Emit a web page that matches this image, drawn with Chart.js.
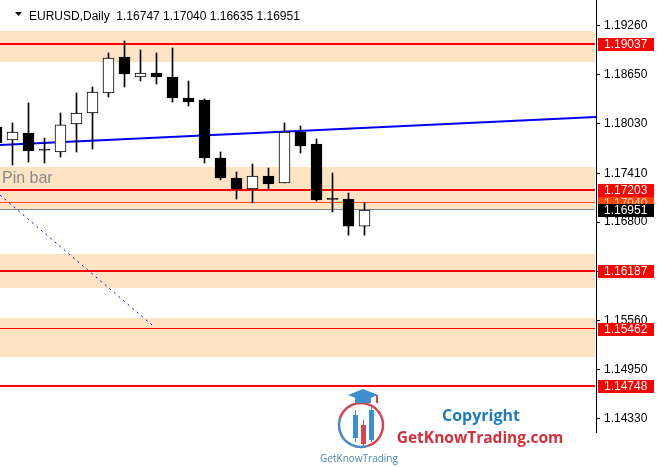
<!DOCTYPE html>
<html>
<head>
<meta charset="utf-8">
<script src="https://cdn.jsdelivr.net/npm/chart.js@4.4.1/dist/chart.umd.min.js"></script>
<style>
  html, body { margin: 0; padding: 0; background: #fff; }
  #wrap { width: 664px; height: 467px; }
</style>
</head>
<body>
<div id="wrap"><canvas id="chart" width="664" height="467"></canvas></div>
<script>
// EURUSD daily candles with S/R zones, MT4 style.
const FONT = "'Liberation Sans', Arial, sans-serif";

const SYMBOL = 'EURUSD,Daily';
// day -1 is the bar cut off at the left edge
const DAY   = [-1, 0, 1, 2, 3, 4, 5, 6, 7, 8, 9, 10, 11, 12, 13, 14, 15, 16, 17, 18, 19, 20, 21, 22];
const OPEN  = [1.17992, 1.17829, 1.17917, 1.17704, 1.17679, 1.18030, 1.18168, 1.18419, 1.18871, 1.18620, 1.18670, 1.18620, 1.18356, 1.18331, 1.17603, 1.17352, 1.17214, 1.17377, 1.17290, 1.17930, 1.17779, 1.17089, 1.17089, 1.16747];
const HIGH  = [1.18030, 1.18043, 1.18294, 1.17854, 1.18168, 1.18419, 1.18494, 1.18921, 1.19072, 1.18959, 1.18921, 1.18984, 1.18570, 1.18344, 1.17679, 1.17428, 1.17528, 1.17478, 1.18043, 1.18005, 1.17842, 1.17415, 1.17164, 1.17040];
const LOW   = [1.17754, 1.17516, 1.17553, 1.17541, 1.17616, 1.17679, 1.17716, 1.18369, 1.18494, 1.18570, 1.18532, 1.18306, 1.18256, 1.17541, 1.17327, 1.17089, 1.17040, 1.17214, 1.17290, 1.17666, 1.17064, 1.16926, 1.16635, 1.16635];
const CLOSE = [1.17792, 1.17930, 1.17691, 1.17701, 1.18018, 1.18168, 1.18432, 1.18858, 1.18658, 1.18670, 1.18620, 1.18356, 1.18306, 1.17603, 1.17352, 1.17214, 1.17377, 1.17277, 1.17930, 1.17754, 1.17076, 1.17085, 1.16747, 1.16951];

const Y_TICKS = [1.19260, 1.18650, 1.18030, 1.17410, 1.16800, 1.16180, 1.15560, 1.14950, 1.14330];
const Y_MIN = 1.14165, Y_MAX = 1.19586;
const X_MIN = -0.78125, X_MAX = 36.46875;

const ZONES  = [[1.19197, 1.18808], [1.17490, 1.16951], [1.16399, 1.15972], [1.15595, 1.15106]];
const LEVELS = [1.19037, 1.17203, 1.16187, 1.15462, 1.14748];
const LEVEL_W = [2, 2, 2, 1, 2];
const HIGH_LINE = 1.17040;
const BID = 1.16951;

const TREND_X = [-0.78, 36.47], TREND_Y = [1.17767, 1.18118];
const DOT_X = [-0.78, 8.72], DOT_Y = [1.17139, 1.15508];

const bodyColor = OPEN.map((o, i) => (CLOSE[i] > o ? '#ffffff' : '#000000'));

function hline(ctx, area, y, w, color) {
  ctx.fillStyle = color;
  const top = w === 2 ? Math.round(y) - 1 : Math.round(y - 0.5);
  ctx.fillRect(area.left, top, area.right - area.left - 1, w);
}

const backdrop = {
  id: 'backdrop',
  beforeDatasetsDraw(chart) {
    const { ctx, chartArea: a, scales: { y } } = chart;
    ctx.save();
    ctx.fillStyle = '#ffe4c4';
    ZONES.forEach(([t, b]) => {
      const y1 = Math.round(y.getPixelForValue(t)), y2 = Math.round(y.getPixelForValue(b));
      ctx.fillRect(a.left, y1, a.right - a.left - 1, y2 - y1);
    });
    ctx.font = '16px ' + FONT;
    ctx.fillStyle = '#8a8a8a';
    ctx.textBaseline = 'alphabetic';
    ctx.fillText('Pin bar', 2, 183);
    LEVELS.forEach((v, i) => hline(ctx, a, y.getPixelForValue(v), LEVEL_W[i], '#ff0000'));
    hline(ctx, a, y.getPixelForValue(HIGH_LINE), 1, '#ff4500');
    hline(ctx, a, y.getPixelForValue(BID), 1, '#778899');
    ctx.restore();
  },
  afterDraw(chart) {
    const { ctx, scales: { y } } = chart;
    ctx.save();
    ctx.font = '12px ' + FONT;
    ctx.textBaseline = 'middle';
    const tag = (v, bg, fg) => {
      const py = Math.round(y.getPixelForValue(v));
      ctx.fillStyle = bg;
      ctx.fillRect(598, py - 6, 56, 13);
      ctx.fillStyle = fg;
      ctx.fillText(v.toFixed(5), 604, py + 1);
    };
    tag(HIGH_LINE, '#ff4500', '#ffd9c8');
    LEVELS.forEach((v) => tag(v, '#ff0000', '#ffffff'));
    tag(BID, '#000000', '#ffffff');

    // header
    ctx.fillStyle = '#000';
    ctx.beginPath();
    ctx.moveTo(15, 12); ctx.lineTo(22, 12); ctx.lineTo(18.5, 16); ctx.closePath();
    ctx.fill();
    ctx.textBaseline = 'alphabetic';
    ctx.fillText(SYMBOL + '  ' + [OPEN, HIGH, LOW, CLOSE].map((s) => s[s.length - 1].toFixed(5)).join(' '), 29, 20);

    // watermark
    ctx.textAlign = 'center';
    ctx.font = 'bold 16px "Open Sans", sans-serif';
    ctx.fillStyle = '#1f7bbf';
    ctx.fillText('Copyright', 481, 421);
    ctx.font = 'bold 15.5px "Open Sans", sans-serif';
    ctx.fillStyle = '#d3303c';
    ctx.fillText('GetKnowTrading.com', 480, 443);
    ctx.font = '10px "Open Sans", sans-serif';
    ctx.fillStyle = '#4c84b0';
    ctx.fillText('GetKnowTrading', 359, 462);

    ctx.lineWidth = 2.5;
    ctx.strokeStyle = '#d64550';
    ctx.beginPath(); ctx.arc(361, 425, 22, Math.PI * 1.1, Math.PI * 2.4); ctx.stroke();
    ctx.strokeStyle = '#4a88c0';
    ctx.beginPath(); ctx.arc(361, 425, 22, Math.PI * 0.4, Math.PI * 1.1); ctx.stroke();
    ctx.fillStyle = '#3d8fd0';
    ctx.beginPath();
    ctx.moveTo(348, 395); ctx.lineTo(363, 389); ctx.lineTo(378, 395); ctx.lineTo(363, 401); ctx.closePath();
    ctx.fill();
    ctx.fillRect(355, 397, 16, 6);
    ctx.fillStyle = '#d64550';
    ctx.fillRect(376, 395, 2, 8);
    ctx.fillStyle = '#3d8fd0';
    ctx.fillRect(355, 410, 1, 32); ctx.fillRect(353, 415, 5, 23);
    ctx.fillRect(371, 406, 1, 36); ctx.fillRect(369, 410, 5, 30);
    ctx.fillStyle = '#d64550';
    ctx.fillRect(363, 420, 1, 26); ctx.fillRect(361, 425, 5, 19);
    ctx.restore();
  },
};

new Chart(document.getElementById('chart'), {
  type: 'bar',
  data: {
    datasets: [
      {
        label: 'wick',
        data: DAY.map((d, i) => ({ x: d, y: [LOW[i], HIGH[i]] })),
        backgroundColor: '#000',
        borderWidth: 0,
        barThickness: 1,
        grouped: false,
        order: 1,
      },
      {
        label: 'body',
        data: DAY.map((d, i) => ({ x: d, y: [OPEN[i], CLOSE[i]] })),
        backgroundColor: bodyColor,
        borderColor: '#000',
        borderWidth: 1,
        borderSkipped: false,
        barThickness: 11,
        minBarLength: 1,
        grouped: false,
        order: 0,
      },
      {
        type: 'line',
        label: 'trend',
        data: TREND_X.map((x, i) => ({ x, y: TREND_Y[i] })),
        borderColor: '#0000ff',
        borderWidth: 2,
        pointRadius: 0,
        order: 3,
      },
      {
        type: 'line',
        label: 'dots',
        data: DOT_X.map((x, i) => ({ x, y: DOT_Y[i] })),
        borderColor: '#0000c8',
        borderWidth: 1,
        borderDash: [2, 4],
        pointRadius: 0,
        order: 3,
      },
    ],
  },
  options: {
    responsive: false,
    animation: false,
    events: [],
    layout: { padding: { left: 0, right: 0, top: 0, bottom: 35 } },
    plugins: { legend: { display: false }, tooltip: { enabled: false } },
    scales: {
      x: { type: 'linear', display: false, min: X_MIN, max: X_MAX, offset: false },
      y: {
        type: 'linear',
        position: 'right',
        min: Y_MIN,
        max: Y_MAX,
        afterBuildTicks: (s) => { s.ticks = Y_TICKS.map((v) => ({ value: v })); },
        afterFit: (s) => { s.width = 68; s.paddingTop = 0; s.paddingBottom = 0; },
        grid: { drawOnChartArea: false, drawTicks: true, tickLength: 4, color: '#000' },
        border: { display: true, color: '#000', width: 1 },
        ticks: {
          autoSkip: false,
          padding: 4,
          color: '#000',
          font: { family: FONT, size: 12 },
          callback: (v) => Number(v).toFixed(5),
        },
      },
    },
  },
  plugins: [backdrop],
});
</script>
</body>
</html>
